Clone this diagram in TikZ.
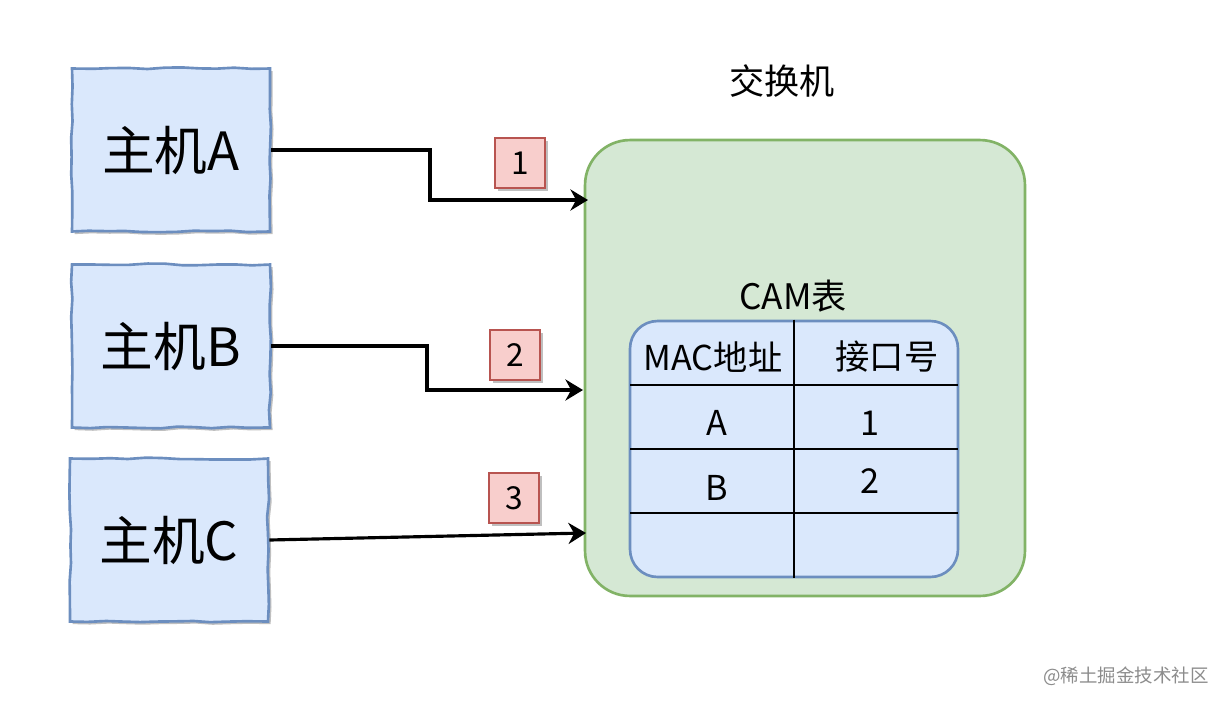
\documentclass[tikz,border=0pt]{standalone}
\usepackage{fontspec}
\setmainfont{Noto Sans CJK SC}
\usetikzlibrary{arrows.meta,decorations.pathmorphing,shadows}
\definecolor{hostfill}{HTML}{DAE8FC}
\definecolor{hostdraw}{HTML}{6C8EBF}
\definecolor{swfill}{HTML}{D5E8D4}
\definecolor{swdraw}{HTML}{82B366}
\definecolor{tagfill}{HTML}{F8CECC}
\definecolor{tagdraw}{HTML}{B85450}
\tikzset{
  shd/.style={drop shadow={shadow xshift=1.5pt,shadow yshift=-1.5pt,opacity=0.25,fill=black}},
  host/.style={shd,draw=hostdraw,fill=hostfill,line width=1.5pt,minimum width=3.96cm,minimum height=3.26cm,
    font=\fontsize{30}{34}\selectfont,inner sep=0pt,
    decorate,decoration={random steps,segment length=10pt,amplitude=0.6pt}},
  switchbox/.style={draw=swdraw,fill=swfill,line width=1.5pt,minimum width=8.8cm,minimum height=9.12cm,rounded corners=0.9cm},
  tbl/.style={draw=hostdraw,fill=hostfill,line width=1.5pt,minimum width=6.56cm,minimum height=5.12cm,rounded corners=0.55cm},
  tag/.style={shd,draw=tagdraw,fill=tagfill,line width=1.2pt,minimum size=1cm,inner sep=0pt,font=\fontsize{18}{21}\selectfont},
  conn/.style={line width=1.8pt,-{Stealth[length=10pt,width=12pt]}},
  grid/.style={line width=1.5pt,black},
  lbl/.style={font=\fontsize{20}{23}\selectfont,inner sep=0pt},
  cell/.style={font=\fontsize{19.5}{22}\selectfont,inner sep=0pt},
}
\begin{document}
\begin{tikzpicture}[x=0.02cm,y=-0.02cm]
\useasboundingbox[fill=white] (0,0) rectangle (1226,704);
% hosts
\node[host] (hA) at (171,150) {主机A};
\node[host] (hB) at (171,346) {主机B};
\node[host] (hC) at (169,540) {主机C};
% switch
\node[switchbox] (sw) at (805,368) {};
\node[lbl] (swl) at (782,81) {交换机};
\node[lbl] (caml) at (793,296) {CAM表};
% table
\node[tbl] (tb) at (794,449) {};
\draw[grid] (tb.north) -- (tb.south);
\draw[grid] (630,385) -- (958,385);
\draw[grid] (630,449) -- (958,449);
\draw[grid] (630,513) -- (958,513);
\node[cell] (c11) at (713,357) {MAC地址};
\node[cell] (c12) at (887,357) {接口号};
\node[cell] (c21) at (717,423) {A};
\node[cell] (c22) at (870,423) {1};
\node[cell] (c31) at (717,488) {B};
\node[cell] (c32) at (870,481) {2};
% arrows
\coordinate (eA) at (588,200);
\coordinate (eB) at (583,390);
\coordinate (eC) at (586,533);
\draw[conn] (hA.east) -- (430,150) -- (430,200) -- (eA);
\draw[conn] (hB.east) -- (427,346) -- (427,390) -- (eB);
\draw[conn] (hC.east) -- (eC);
% tags
\node[tag] (t1) at (520,163) {1};
\node[tag] (t2) at (515,355) {2};
\node[tag] (t3) at (514,498) {3};
% watermark
\node[font=\fontsize{10.5}{12}\selectfont,text=black!45,inner sep=0pt] (wm) at (1126,676) {@稀土掘金技术社区};
\end{tikzpicture}
\end{document}
